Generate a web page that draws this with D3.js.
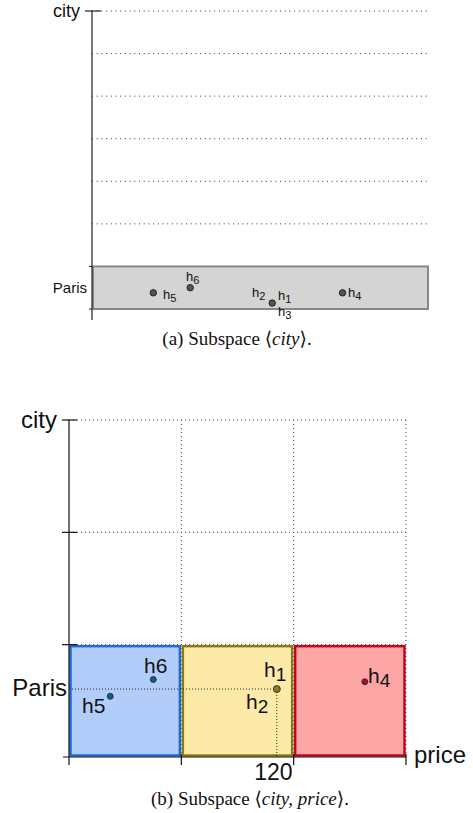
<!DOCTYPE html>
<html>
<head>
<meta charset="utf-8">
<script src="https://cdn.jsdelivr.net/npm/d3@7"></script>
<style>
  body { margin: 0; background: #fff; }
  text { font-family: "Liberation Sans", Arial, sans-serif; fill: #111; }
  .cap { font-family: "Liberation Serif", "DejaVu Serif", serif; }
</style>
</head>
<body>
<div id="chart"></div>
<script>
// panel (a) data: hotels in the <city> subspace
const hotelsA = ["h5", "h6", "h3", "h4"];
const posA = [0.18, 0.29, 0.535, 0.745];    // position along the Paris band
const offA = [0.62, 0.5, 0.86, 0.62];       // position across the band
const cityLevelsA = [0, 1, 2, 3, 4, 5, 6];  // gridline levels

// panel (b) data: hotels in the <city, price> subspace
const hotelsB = ["h5", "h6", "h1", "h4"];
const priceB = [22, 45, 111, 158];
const cityB = [0.54, 0.69, 0.605, 0.67];
const priceBins = [0, 60, 120, 180];
const binFill = ["#b3cdfb", "#fdeaa8", "#fca6a6"];
const binStroke = ["#1c6bd6", "#8c7a1a", "#c0071c"];
const dotColor = ["#17588f", "#8c7a1a", "#b00c2a"];

const w = 473, h = 813;
const svg = d3.select("#chart").append("svg")
    .attr("width", w)
    .attr("height", h);

// ---------- panel (a) ----------
const ax = d3.scaleLinear().domain([0, 1]).range([93, 428]);
const ay = d3.scaleLinear().domain([0, 7]).range([11, 309]);

const ga = svg.append("g");

// dotted gridlines
ga.selectAll("line.grid")
    .data(cityLevelsA.slice(0, 6))
    .enter().append("line")
    .attr("x1", 92).attr("x2", 428)
    .attr("y1", d => ay(d)).attr("y2", d => ay(d))
    .attr("stroke", "#333").attr("stroke-width", 1)
    .attr("stroke-dasharray", "1,3.7");

// Paris band
ga.append("rect")
    .attr("x", ax(0)).attr("y", ay(6))
    .attr("width", ax(1) - ax(0)).attr("height", ay(7) - ay(6))
    .attr("fill", "#d4d4d4").attr("stroke", "#888").attr("stroke-width", 2);

// axis
ga.append("line").attr("x1", 92).attr("x2", 92).attr("y1", ay(0)).attr("y2", 320)
    .attr("stroke", "#222").attr("stroke-width", 1.2);
ga.append("line").attr("x1", 85).attr("x2", 101).attr("y1", ay(0)).attr("y2", ay(0))
    .attr("stroke", "#222").attr("stroke-width", 1.2);
ga.selectAll("line.tk").data([6, 7]).enter().append("line")
    .attr("x1", 89).attr("x2", 92).attr("y1", d => ay(d)).attr("y2", d => ay(d))
    .attr("stroke", "#222");

ga.append("text").attr("x", 80).attr("y", 17).attr("text-anchor", "end")
    .attr("font-size", 18).text("city");
ga.append("text").attr("x", 87).attr("y", 293).attr("text-anchor", "end")
    .attr("font-size", 15).text("Paris");

ga.selectAll("circle").data(hotelsA).enter().append("circle")
    .attr("cx", (d, i) => ax(posA[i]))
    .attr("cy", (d, i) => ay(6 + offA[i]))
    .attr("r", 3.2).attr("fill", "#555").attr("stroke", "#222").attr("stroke-width", 1);

// labels for panel (a): [name, digit, x, y]
const labelsA = [["h", "5", 163, 299], ["h", "6", 186, 281], ["h", "2", 252, 297],
                 ["h", "1", 278, 300], ["h", "3", 278, 316], ["h", "4", 348, 297]];
labelsA.forEach(l => {
    const t = ga.append("text").attr("x", l[2]).attr("y", l[3]).attr("font-size", 13);
    t.append("tspan").text(l[0]);
    t.append("tspan").attr("dy", 3).attr("font-size", 11).text(l[1]);
});

// caption (a)
const capA = svg.append("text").attr("class", "cap").attr("x", 237).attr("y", 345)
    .attr("text-anchor", "middle").attr("font-size", 19);
capA.append("tspan").text("(a) Subspace \u27E8");
capA.append("tspan").attr("font-style", "italic").text("city");
capA.append("tspan").text("\u27E9.");

// ---------- panel (b) ----------
const bx = d3.scaleLinear().domain([0, 180]).range([69, 406]);
const by = d3.scaleLinear().domain([0, 3]).range([757, 420]);
const gb = svg.append("g");

// dotted grid
gb.selectAll("line.hg").data([1, 2, 3]).enter().append("line")
    .attr("x1", bx(0)).attr("x2", bx(180))
    .attr("y1", d => by(d)).attr("y2", d => by(d))
    .attr("stroke", "#444").attr("stroke-dasharray", "1,3");
gb.selectAll("line.vg").data([60, 120, 180]).enter().append("line")
    .attr("x1", d => bx(d)).attr("x2", d => bx(d))
    .attr("y1", by(3)).attr("y2", by(0))
    .attr("stroke", "#444").attr("stroke-dasharray", "1,3");

// price bins for Paris
gb.selectAll("rect").data(priceBins.slice(0, 3)).enter().append("rect")
    .attr("x", (d, i) => bx(d) + 1.5)
    .attr("y", by(1) + 1.5)
    .attr("width", (d, i) => bx(priceBins[i + 1]) - bx(d) - 3)
    .attr("height", by(0) - by(1) - 3)
    .attr("fill", (d, i) => binFill[i])
    .attr("stroke", (d, i) => binStroke[i])
    .attr("stroke-width", 2.5);

// axes
gb.append("line").attr("x1", bx(0)).attr("x2", bx(0)).attr("y1", by(3)).attr("y2", by(0) + 8)
    .attr("stroke", "#111").attr("stroke-width", 1.2);
gb.append("line").attr("x1", bx(0) - 6).attr("x2", bx(180)).attr("y1", by(0)).attr("y2", by(0))
    .attr("stroke", "#111").attr("stroke-width", 1.2);
gb.selectAll("line.yt").data([1, 2, 3]).enter().append("line")
    .attr("x1", bx(0) - 7).attr("x2", bx(0) + 8)
    .attr("y1", d => by(d)).attr("y2", d => by(d))
    .attr("stroke", "#111").attr("stroke-width", 1.2);
gb.selectAll("line.xt").data(priceBins.slice(1)).enter().append("line")
    .attr("x1", d => bx(d)).attr("x2", d => bx(d))
    .attr("y1", by(0) - 3).attr("y2", by(0) + 8)
    .attr("stroke", "#111").attr("stroke-width", 1.2);

// projection of h1
const i1 = hotelsB.indexOf("h1");
gb.append("line").attr("x1", bx(0)).attr("x2", bx(priceB[i1]))
    .attr("y1", by(cityB[i1])).attr("y2", by(cityB[i1]))
    .attr("stroke", "#222").attr("stroke-dasharray", "1,2");
gb.append("line").attr("x1", bx(priceB[i1])).attr("x2", bx(priceB[i1]))
    .attr("y1", by(cityB[i1])).attr("y2", by(0))
    .attr("stroke", "#222").attr("stroke-dasharray", "1,2");

gb.selectAll("circle").data(hotelsB).enter().append("circle")
    .attr("cx", (d, i) => bx(priceB[i]))
    .attr("cy", (d, i) => by(cityB[i]))
    .attr("r", (d) => d === "h1" ? 3.5 : 3)
    .attr("fill", (d, i) => dotColor[priceBins.findIndex((b, k) => priceB[i] < priceBins[k + 1])])
    .attr("stroke", "#222").attr("stroke-width", 0.8);

gb.append("text").attr("x", 57).attr("y", 428).attr("text-anchor", "end")
    .attr("font-size", 24).text("city");
gb.append("text").attr("x", 67).attr("y", 696).attr("text-anchor", "end")
    .attr("font-size", 24).text("Paris");
gb.append("text").attr("x", 414).attr("y", 763)
    .attr("font-size", 24).text("price");
gb.append("text").attr("x", bx(120) - 1).attr("y", 780).attr("text-anchor", "end")
    .attr("font-size", 23).text("120");

// labels for panel (b): [name, digit, x, y, subscript]
const labelsB = [["h", "6", 144, 673, false], ["h", "5", 82, 713, false],
                 ["h", "1", 264, 677, true], ["h", "2", 246, 709, true], ["h", "4", 368, 683, true]];
labelsB.forEach(l => {
    const t = gb.append("text").attr("x", l[2]).attr("y", l[3]).attr("font-size", 21);
    t.append("tspan").text(l[0]);
    t.append("tspan").attr("dy", l[4] ? 4 : 0).attr("font-size", l[4] ? 19 : 21).text(l[1]);
});

// caption (b)
const capB = svg.append("text").attr("class", "cap").attr("x", 250).attr("y", 805)
    .attr("text-anchor", "middle").attr("font-size", 19);
capB.append("tspan").text("(b) Subspace \u27E8");
capB.append("tspan").attr("font-style", "italic").text("city, price");
capB.append("tspan").text("\u27E9.");
</script>
</body>
</html>
